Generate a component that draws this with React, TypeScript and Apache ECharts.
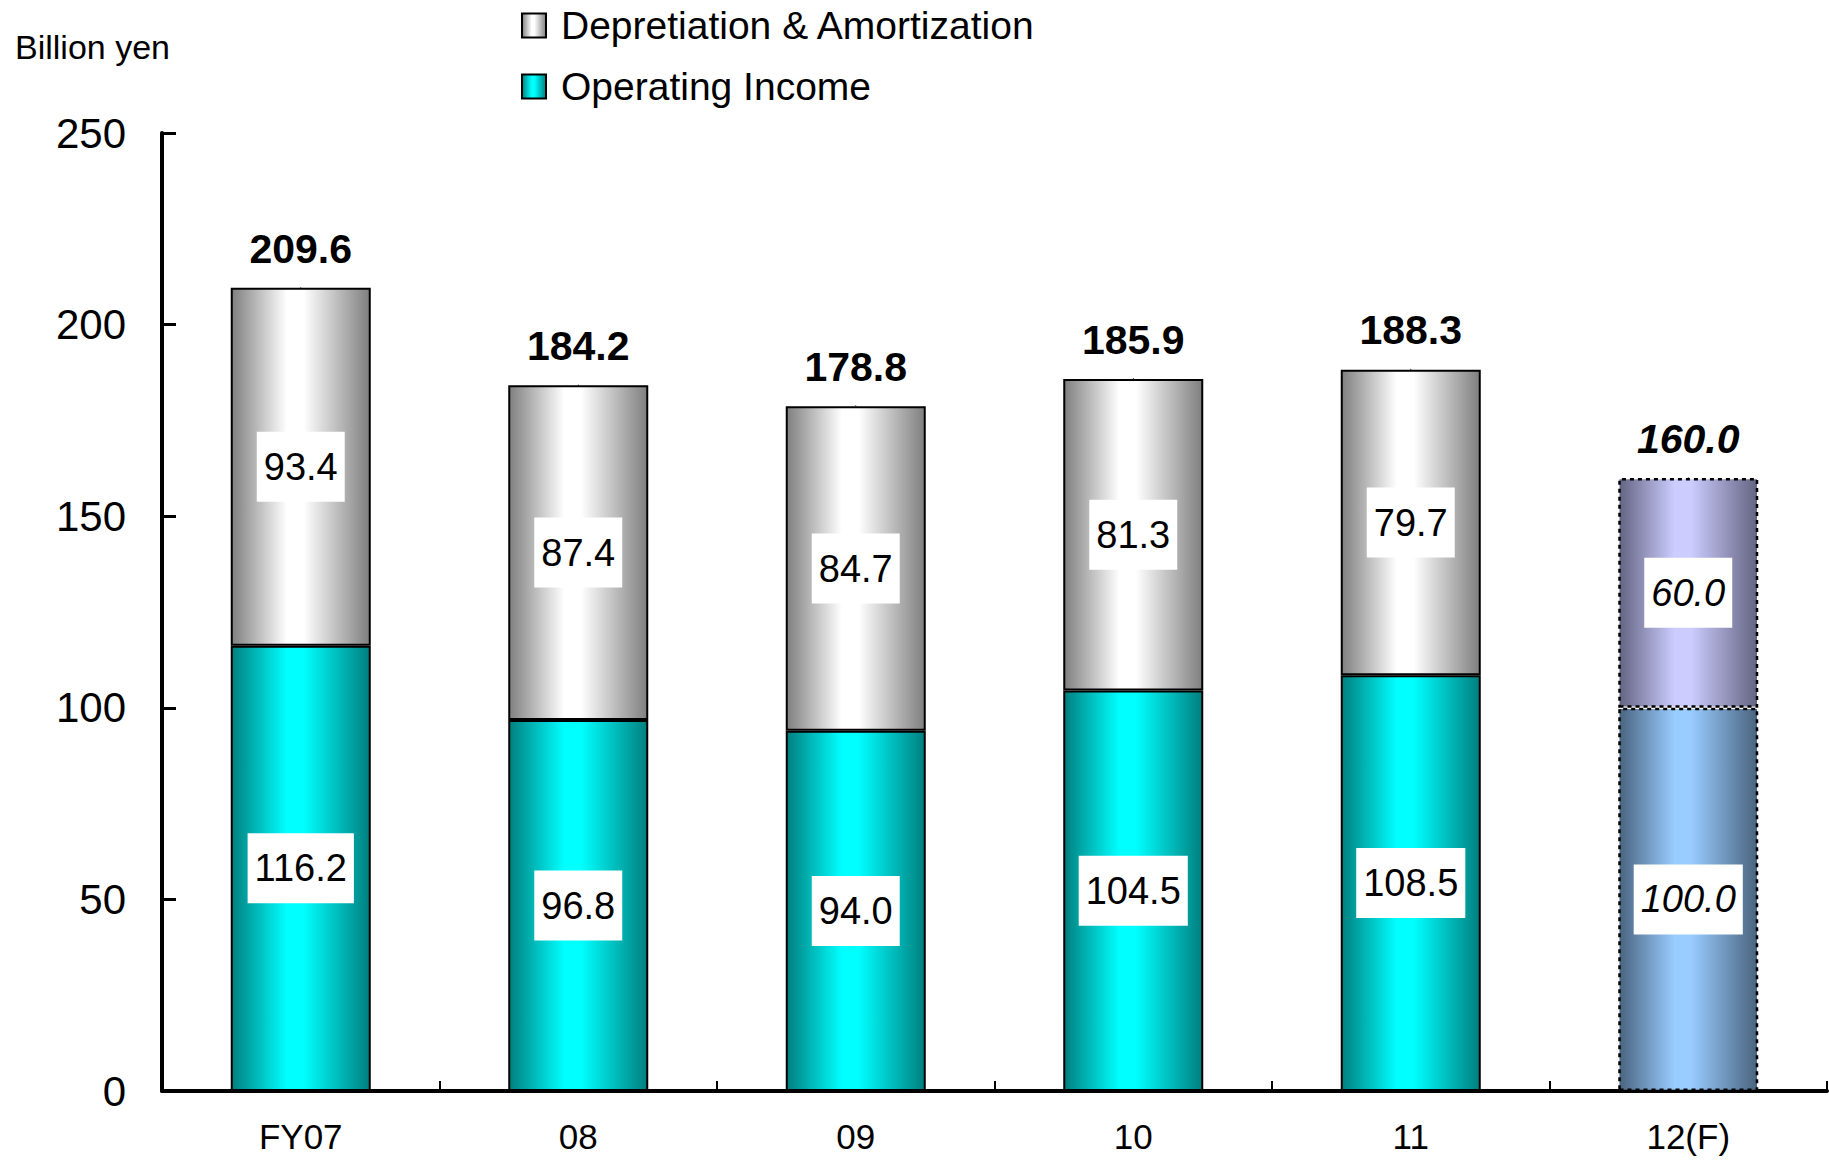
import React, { useEffect, useRef } from "react";
import * as echarts from "echarts";

const categories = ["FY07", "08", "09", "10", "11", "12(F)"];
const operatingIncome = [116.2, 96.8, 94.0, 104.5, 108.5, 100.0];
const depreciation = [93.4, 87.4, 84.7, 81.3, 79.7, 60.0];
const totals = [209.6, 184.2, 178.8, 185.9, 188.3, 160.0];
const forecastIndex = 5;
const yTicks = { min: 0, max: 250, interval: 50 };

const FONT = '"Liberation Sans", Arial, sans-serif';

const grad = (edge: string, mid: string) =>
  new echarts.graphic.LinearGradient(0, 0, 1, 0, [
    { offset: 0, color: edge },
    { offset: 0.4, color: mid },
    { offset: 0.52, color: mid },
    { offset: 1, color: edge },
  ]);

export default function App() {
  const ref = useRef<HTMLDivElement>(null);
  useEffect(() => {
    document.body.style.margin = "0";
    if (!ref.current) return;
    const chart = echarts.init(ref.current, null, { renderer: "svg" });

    const insideLabel = {
      show: true,
      position: "inside",
      fontFamily: FONT,
      fontSize: 38,
      lineHeight: 40,
      color: "#000",
      backgroundColor: "#fff",
      padding: [15, 7, 15, 7],
      formatter: (p: any) => Number(p.value).toFixed(1),
    };

    const forecastItem = (edge: string, mid: string) => ({
      color: grad(edge, mid),
      borderColor: "#000",
      borderWidth: 2.5,
      borderType: [4, 4],
    });

    const oiData = operatingIncome.map((v, i) =>
      i === forecastIndex
        ? { value: v, itemStyle: forecastItem("#4a6480", "#99ccff"), label: { fontStyle: "italic" } }
        : v
    );
    const daData = depreciation.map((v, i) =>
      i === forecastIndex
        ? { value: v, itemStyle: forecastItem("#646482", "#ccccff"), label: { fontStyle: "italic" } }
        : v
    );
    const totalData = totals.map((v, i) =>
      i === forecastIndex ? { value: v, label: { fontStyle: "italic" } } : v
    );

    chart.setOption({
      animation: false,
      backgroundColor: "#fff",
      textStyle: { fontFamily: FONT },
      grid: { left: 162, right: 2, top: 133, bottom: 71, containLabel: false },
      legend: {
        orient: "vertical",
        left: 521,
        top: 6,
        padding: 0,
        itemGap: 22,
        itemWidth: 24,
        itemHeight: 24,
        icon: "rect",
        data: ["Depretiation & Amortization", "Operating Income"],
        formatter: (name: string) => `{t|${name}}`,
        textStyle: {
          rich: {
            t: { fontFamily: FONT, fontSize: 39, lineHeight: 40, color: "#000", padding: [0, 0, 0, 10] },
          },
        },
        itemStyle: { borderColor: "#000", borderWidth: 2 },
      },
      graphic: [
        {
          type: "text",
          left: 15,
          top: 30,
          style: { text: "Billion yen", fontFamily: FONT, fontSize: 34, fill: "#000" },
        },
      ],
      xAxis: {
        type: "category",
        data: categories,
        axisLine: { show: true, lineStyle: { color: "#000", width: 4 } },
        axisTick: { show: true, inside: true, length: 10, lineStyle: { color: "#000", width: 2 } },
        axisLabel: { fontFamily: FONT, fontSize: 35, color: "#000", margin: 28 },
        splitLine: { show: false },
      },
      yAxis: {
        type: "value",
        min: yTicks.min,
        max: yTicks.max,
        interval: yTicks.interval,
        axisLine: { show: true, lineStyle: { color: "#000", width: 4 } },
        axisTick: { show: true, inside: true, length: 14, lineStyle: { color: "#000", width: 3 } },
        axisLabel: { fontFamily: FONT, fontSize: 42, color: "#000", margin: 36 },
        splitLine: { show: false },
      },
      series: [
        {
          name: "Operating Income",
          type: "bar",
          stack: "total",
          barWidth: 140,
          data: oiData,
          itemStyle: { color: grad("#007f7f", "#00ffff"), borderColor: "#000", borderWidth: 2 },
          label: insideLabel,
        },
        {
          name: "Depretiation & Amortization",
          type: "bar",
          stack: "total",
          barWidth: 140,
          data: daData,
          itemStyle: { color: grad("#7f7f7f", "#ffffff"), borderColor: "#000", borderWidth: 2 },
          label: insideLabel,
        },
        {
          name: "Total",
          type: "scatter",
          data: totalData,
          symbolSize: 1,
          itemStyle: { color: "#000", opacity: 1 },
          label: {
            show: true,
            position: "top",
            distance: 18,
            fontFamily: FONT,
            fontSize: 41,
            fontWeight: "bold",
            color: "#000",
            opacity: 1,
            formatter: (p: any) => Number(p.value).toFixed(1),
          },
          z: 5,
        },
      ],
    });
    return () => chart.dispose();
  }, []);
  return <div ref={ref} style={{ width: 1829, height: 1162 }} />;
}
